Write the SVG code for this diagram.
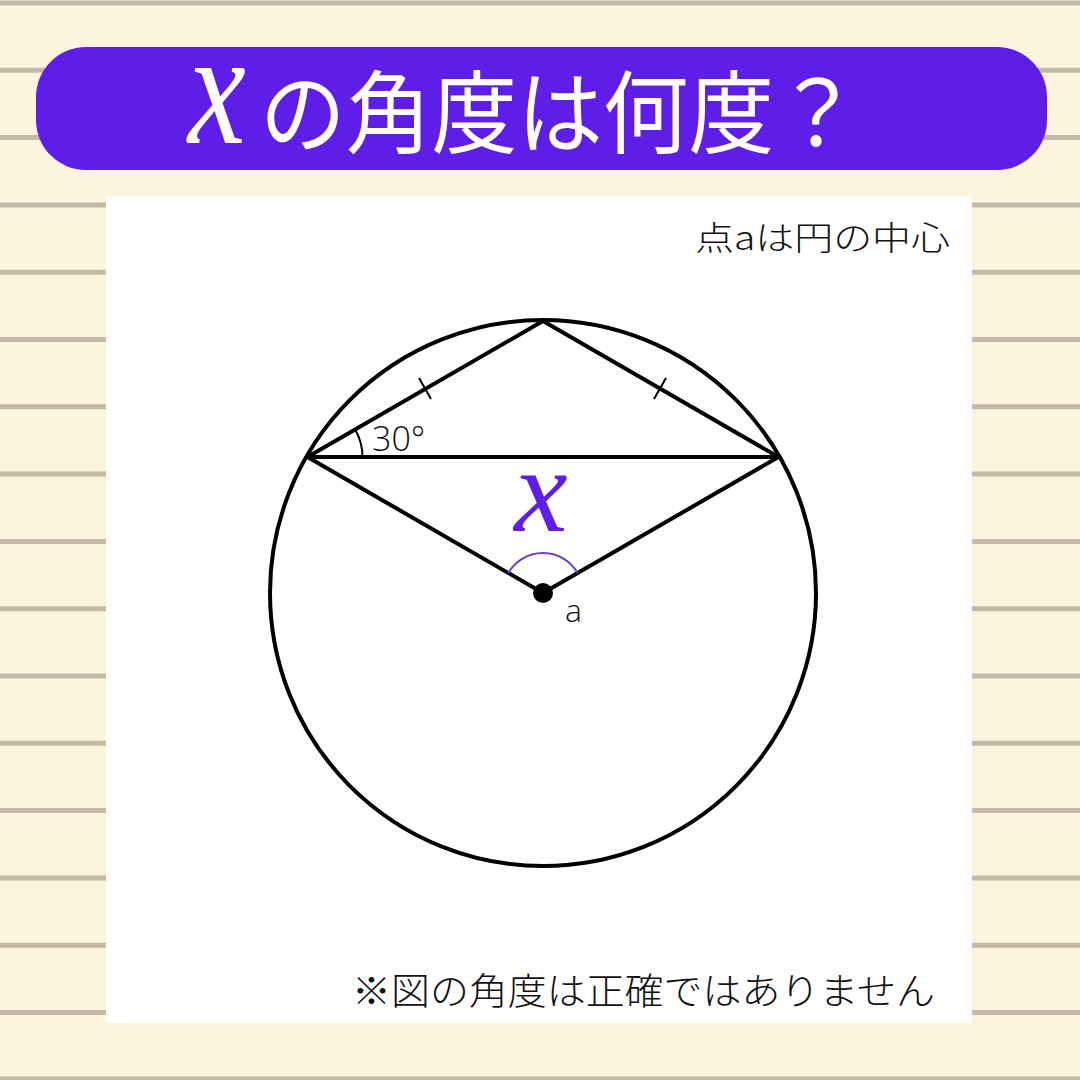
<svg xmlns="http://www.w3.org/2000/svg" width="1080" height="1080" viewBox="0 0 1080 1080">
<style>
.rule{stroke:#c4b9a6;stroke-width:5}
.geo{fill:none;stroke:#000;stroke-width:4;stroke-linecap:round;stroke-linejoin:round}
.thin{fill:none;stroke:#000;stroke-width:2}
.jp{font-family:"Noto Sans CJK JP","Noto Sans",sans-serif;font-weight:300;fill:#111}
.lat{font-family:"Open Sans","Noto Sans",sans-serif;font-weight:300;fill:#111}
.chi{font-family:"Liberation Serif",serif;font-style:italic}
</style>
<rect width="1080" height="1080" fill="#fdf4de"/>
<g id="background-rules">
<line class="rule" x1="0" y1="3" x2="1080" y2="3"/>
<line class="rule" x1="0" y1="70.3" x2="1080" y2="70.3"/>
<line class="rule" x1="0" y1="137.6" x2="1080" y2="137.6"/>
<line class="rule" x1="0" y1="204.9" x2="1080" y2="204.9"/>
<line class="rule" x1="0" y1="272.2" x2="1080" y2="272.2"/>
<line class="rule" x1="0" y1="339.5" x2="1080" y2="339.5"/>
<line class="rule" x1="0" y1="406.8" x2="1080" y2="406.8"/>
<line class="rule" x1="0" y1="474.1" x2="1080" y2="474.1"/>
<line class="rule" x1="0" y1="541.4" x2="1080" y2="541.4"/>
<line class="rule" x1="0" y1="608.7" x2="1080" y2="608.7"/>
<line class="rule" x1="0" y1="676" x2="1080" y2="676"/>
<line class="rule" x1="0" y1="743.3" x2="1080" y2="743.3"/>
<line class="rule" x1="0" y1="810.6" x2="1080" y2="810.6"/>
<line class="rule" x1="0" y1="877.9" x2="1080" y2="877.9"/>
<line class="rule" x1="0" y1="945.2" x2="1080" y2="945.2"/>
<line class="rule" x1="0" y1="1012.5" x2="1080" y2="1012.5"/>
<line class="rule" x1="0" y1="1079" x2="1080" y2="1079"/>
</g>
<g id="title">
<rect x="36" y="47" width="1011" height="123" rx="50" fill="#5f1ee8"/>
<text class="chi" x="0" y="0" font-size="130" fill="#fff" transform="translate(188,143) scale(1,1.25)">x</text>
<text x="260" y="146" font-family="Noto Sans CJK JP,sans-serif" font-weight="400" font-size="90" fill="#fff" textLength="600" lengthAdjust="spacingAndGlyphs">の角度は何度？</text>
</g>
<rect id="panel" x="106" y="196" width="866" height="827" fill="#fff"/>
<text id="note-center" class="jp" x="695" y="250" font-size="33" textLength="255" lengthAdjust="spacingAndGlyphs">点aは円の中心</text>
<g id="circle"><circle class="geo" cx="543" cy="593" r="273"/></g>
<g id="connectors">
<polyline class="geo" points="307.5,457 543,321 778.5,457"/>
<line class="geo" x1="307.5" y1="457" x2="778.5" y2="457"/>
<polyline class="geo" points="307.5,457 543,593 778.5,457"/>
<line class="thin" x1="419" y1="378" x2="431" y2="399"/>
<line class="thin" x1="666" y1="378" x2="654" y2="399"/>
<path class="thin" d="M362.5,457 A55,55 0 0 0 355.1,429.5"/>
<path d="M508.4,573 A40,40 0 0 1 577.6,573" fill="none" stroke="#6a3fd0" stroke-width="2"/>
</g>
<g id="center-point"><circle cx="543" cy="593" r="10" fill="#000"/>
<text class="lat" x="565" y="622" font-size="32">a</text></g>
<text id="angle-30" class="lat" x="372" y="451" font-size="34">30°</text>
<text id="angle-x" class="chi" x="541" y="531" font-size="120" fill="#5f1ee8" text-anchor="middle">x</text>
<text id="note-bottom" class="jp" x="352" y="1005" font-size="37" textLength="583" lengthAdjust="spacingAndGlyphs">※図の角度は正確ではありません</text>
</svg>
